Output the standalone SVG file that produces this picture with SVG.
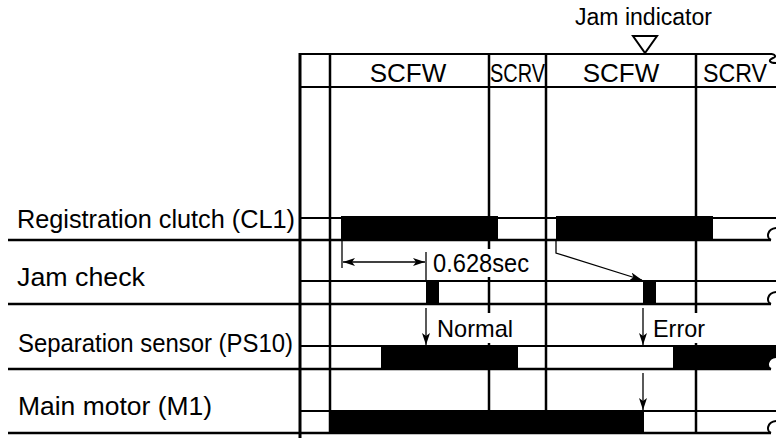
<svg xmlns="http://www.w3.org/2000/svg" width="776" height="438" viewBox="0 0 776 438">
<defs>
<marker id="ah" viewBox="0 0 12 8" refX="12" refY="4" markerWidth="12" markerHeight="8" markerUnits="userSpaceOnUse" orient="auto-start-reverse">
<path d="M0,0 L12,4 L0,8 L3,4 Z" fill="#000"/>
</marker>
<style>
text{font-family:"Liberation Sans",Arial,sans-serif;fill:#000}
.lbl{font-size:25px}
.hdr{font-size:26px}
.ann{font-size:24px}
.v{stroke:#000;stroke-width:2.5;fill:none}
.h{stroke:#000;stroke-width:2;fill:none}
.hl{stroke:#000;stroke-width:2.5;fill:none}
.bar{fill:#000}
.thin{stroke:#000;stroke-width:1.3;fill:none}
.brk{stroke:#000;stroke-width:2;fill:none}
</style>
</defs>
<rect width="776" height="438" fill="#fff"/>

<g id="grid">
<!-- header -->
<line class="h" x1="300" y1="54" x2="772" y2="54"/>
<line class="h" x1="300" y1="87" x2="776" y2="87"/>
<path class="brk" d="M772 54 C776 55 776 57 773 58 C768 60 769 63 776 63"/>
<!-- vertical lines -->
<line class="v" x1="300" y1="53" x2="300" y2="438" style="stroke-width:3"/>
<line class="v" x1="330" y1="53" x2="330" y2="433"/>
<line class="v" x1="489" y1="53" x2="489" y2="249"/>
<line class="v" x1="489" y1="277" x2="489" y2="313"/>
<line class="v" x1="489" y1="343" x2="489" y2="433"/>
<line class="v" x1="546" y1="53" x2="546" y2="433"/>
<line class="v" x1="696" y1="53" x2="696" y2="313"/>
<line class="v" x1="696" y1="343" x2="696" y2="433"/>
</g>

<g id="header-labels">
<text class="hdr" x="408" y="82" text-anchor="middle">SCFW</text>
<text class="hdr" x="490" y="82" textLength="55" lengthAdjust="spacingAndGlyphs">SCRV</text>
<text class="hdr" x="621" y="82" text-anchor="middle">SCFW</text>
<text class="hdr" x="703" y="82" textLength="64" lengthAdjust="spacingAndGlyphs">SCRV</text>
</g>

<g id="jam-indicator">
<text style="font-size:23px" x="575" y="25" textLength="137" lengthAdjust="spacingAndGlyphs">Jam indicator</text>
<path d="M633 36 L657 36 L645 53 Z" fill="#fff" stroke="#000" stroke-width="2"/>
</g>

<g id="row-registration-clutch">
<text class="lbl" x="17" y="228" textLength="278" lengthAdjust="spacingAndGlyphs">Registration clutch (CL1)</text>
<line class="h" x1="300" y1="218" x2="776" y2="218"/>
<line class="hl" x1="8" y1="240" x2="771" y2="240"/>
<path class="brk" d="M771 240 C766 238 767 229 776 228"/>
<rect class="bar" x="341" y="216" width="157" height="24"/>
<rect class="bar" x="556" y="216" width="157" height="24"/>
</g>

<g id="row-jam-check">
<text class="lbl" x="17" y="286" textLength="128" lengthAdjust="spacingAndGlyphs">Jam check</text>
<line class="h" x1="300" y1="281" x2="776" y2="281"/>
<line class="hl" x1="8" y1="304" x2="771" y2="304"/>
<path class="brk" d="M771 304 C766 302 767 293 776 292"/>
<rect class="bar" x="426" y="281" width="13" height="23"/>
<rect class="bar" x="643" y="281" width="13" height="23"/>
</g>

<g id="row-separation-sensor">
<text class="lbl" x="18" y="352" textLength="275" lengthAdjust="spacingAndGlyphs">Separation sensor (PS10)</text>
<line class="h" x1="300" y1="346" x2="776" y2="346"/>
<line class="hl" x1="8" y1="369" x2="771" y2="369"/>
<rect class="bar" x="381" y="346" width="137" height="23"/>
<rect class="bar" x="673" y="346" width="103" height="23"/>
<path d="M776 357 C767 358 767 369 771 369 L776 369 Z" fill="#fff"/>
<path class="brk" d="M771 369 C766 367 767 358 776 357"/>
</g>

<g id="row-main-motor">
<text class="lbl" x="18" y="415" textLength="194" lengthAdjust="spacingAndGlyphs">Main motor (M1)</text>
<line class="h" x1="300" y1="411" x2="776" y2="411"/>
<line class="hl" x1="8" y1="433" x2="771" y2="433"/>
<path class="brk" d="M771 433 C766 431 767 422 776 421"/>
<rect class="bar" x="329" y="411" width="315" height="23"/>
</g>

<g id="connectors">
<line class="thin" x1="342" y1="240" x2="342" y2="268"/>
<line class="thin" x1="343" y1="262" x2="425" y2="262" marker-start="url(#ah)" marker-end="url(#ah)"/>
<line class="thin" x1="426" y1="252" x2="426" y2="281"/>
<polyline class="thin" points="556,240 556,253 642,280" marker-end="url(#ah)"/>
<line class="thin" x1="426" y1="308" x2="426" y2="345" marker-end="url(#ah)"/>
<line class="thin" x1="643" y1="308" x2="643" y2="345" marker-end="url(#ah)"/>
<line class="thin" x1="643" y1="373" x2="643" y2="410" marker-end="url(#ah)"/>
</g>

<g id="annotations">
<text class="ann" x="433" y="272" textLength="96" lengthAdjust="spacingAndGlyphs" style="font-size:25px">0.628sec</text>
<text class="ann" x="437" y="337" textLength="76" lengthAdjust="spacingAndGlyphs">Normal</text>
<text class="ann" x="653" y="337" textLength="52" lengthAdjust="spacingAndGlyphs">Error</text>
</g>
</svg>
